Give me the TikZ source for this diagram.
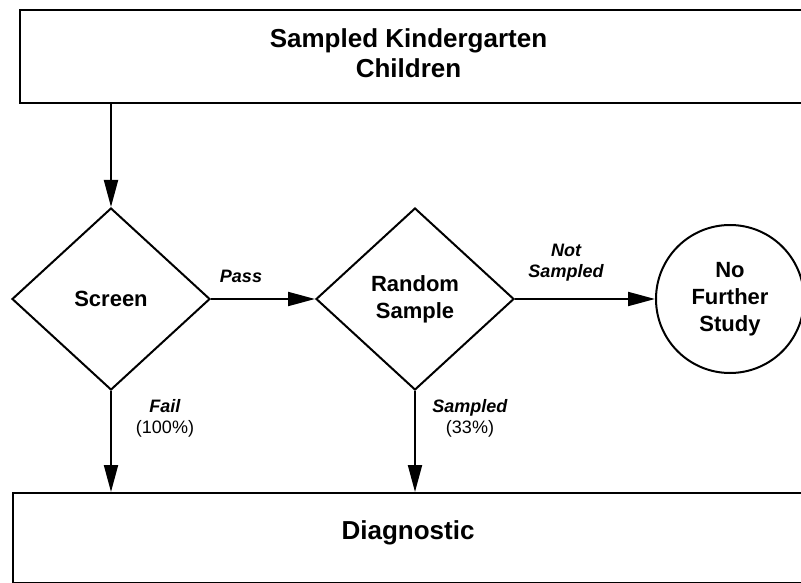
\documentclass[tikz,border=0pt]{standalone}
\usepackage{fontspec}
\setmainfont{Liberation Sans}
\usetikzlibrary{shapes.geometric,arrows.meta}
\begin{document}
\begin{tikzpicture}[x=1pt,y=-1pt,
  ln/.style={line width=2pt, draw=black},
  arr/.style={line width=2pt, -{Triangle[length=27pt,width=14pt]}},
  bigtxt/.style={font=\fontsize{26}{30}\selectfont\bfseries, align=center, inner sep=0pt},
  nodetxt/.style={font=\fontsize{22}{27}\selectfont\bfseries, align=center, inner sep=0pt},
  lbl/.style={font=\fontsize{18}{21}\selectfont, align=center, inner sep=0pt},
  boxshape/.style={ln, rectangle, inner sep=0pt, anchor=north west},
  decision/.style={ln, diamond, inner sep=0pt, nodetxt},
  endcircle/.style={ln, circle, inner sep=0pt, minimum size=148pt, nodetxt}
]
\useasboundingbox (0,0) rectangle (801,583);
\clip (0,0) rectangle (801,583);
\fill[white] (0,0) rectangle (801,583);

% boxes
\node[boxshape, minimum width=820pt, minimum height=93pt] (top) at (19,9) {};
\node[bigtxt] (toptxt) at (408.5,53) {Sampled Kindergarten\\Children};

\node[boxshape, minimum width=820pt, minimum height=90pt] (diag) at (12,492) {};
\node[bigtxt] (diagtxt) at (408,533) {Diagnostic};

% decisions
\node[decision, minimum width=198pt, minimum height=182pt] (screen) at (111,299) {Screen};
\node[decision, minimum width=198pt, minimum height=182pt] (rand) at (415,299) {Random\\Sample};
\node[endcircle] (nfs) at (730,299) {No\\Further\\Study};

% connectors
\draw[arr] (screen.north |- top.south) -- (screen.north);
\draw[arr] (screen.east) -- (rand.west);
\draw[arr] (rand.east) -- (nfs.west);
\draw[arr] (screen.south) -- (screen.south |- diag.north);
\draw[arr] (rand.south) -- (rand.south |- diag.north);

% labels
\node[lbl, font=\fontsize{18}{21}\selectfont\bfseries\itshape] (passlbl) at (241,276) {Pass};
\node[lbl, font=\fontsize{18}{21}\selectfont\bfseries\itshape] (notlbl) at (566,263) {Not\\Sampled};
\node[lbl] (faillbl) at (165,418) {\textbf{\textit{Fail}}\\(100\%)};
\node[lbl] (samplbl) at (470,418) {\textbf{\textit{Sampled}}\\(33\%)};
\end{tikzpicture}
\end{document}
